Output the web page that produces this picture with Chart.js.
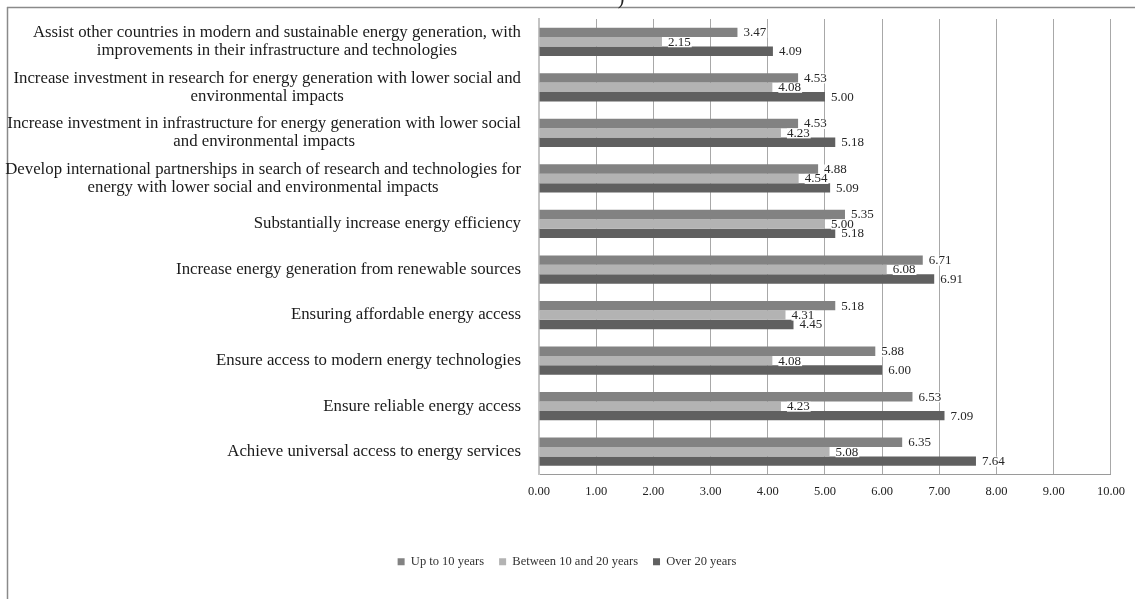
<!DOCTYPE html>
<html>
<head>
<meta charset="utf-8">
<script src="https://cdn.jsdelivr.net/npm/chart.js@4/dist/chart.umd.min.js"></script>
<style>
  html, body { margin: 0; padding: 0; background: #ffffff; }
  #wrap { width: 1135px; height: 599px; position: relative; }
</style>
</head>
<body>
<div id="wrap"><canvas id="c" width="1135" height="599"></canvas></div>
<script>
// Actions for the energy goal, listed top to bottom
const categories = [
  ["Assist other countries in modern and sustainable energy generation, with", "improvements in their infrastructure and technologies"],
  ["Increase investment in research for energy generation with lower social and", "environmental impacts"],
  ["Increase investment in infrastructure for energy generation with lower social", "and environmental impacts"],
  ["Develop international partnerships in search of research and technologies for", "energy with lower social and environmental impacts"],
  ["Substantially increase energy efficiency"],
  ["Increase energy generation from renewable sources"],
  ["Ensuring affordable energy access"],
  ["Ensure access to modern energy technologies"],
  ["Ensure reliable energy access"],
  ["Achieve universal access to energy services"]
];

const seriesNames = ["Up to 10 years", "Between 10 and 20 years", "Over 20 years"];

const upTo10 = [3.47, 4.53, 4.53, 4.88, 5.35, 6.71, 5.18, 5.88, 6.53, 6.35];
const between10and20 = [2.15, 4.08, 4.23, 4.54, 5.00, 6.08, 4.31, 4.08, 4.23, 5.08];
const over20 = [4.09, 5.00, 5.18, 5.09, 5.18, 6.91, 4.45, 6.00, 7.09, 7.64];

const xTicks = [0, 1, 2, 3, 4, 5, 6, 7, 8, 9, 10];

const SERIF = "'Liberation Serif', 'Times New Roman', serif";

// Frame lines and the clipped heading remnant
const framePlugin = {
  id: 'frame',
  beforeDraw(chart) {
    const ctx = chart.ctx;
    ctx.save();
    ctx.fillStyle = '#ffffff';
    ctx.fillRect(0, 0, chart.width, chart.height);
    ctx.strokeStyle = '#8a8a8a';
    ctx.lineWidth = 1.5;
    ctx.beginPath();
    ctx.moveTo(7, 7.5);
    ctx.lineTo(chart.width, 7.5);
    ctx.moveTo(7.5, 7);
    ctx.lineTo(7.5, chart.height);
    ctx.stroke();
    ctx.fillStyle = '#222';
    ctx.font = '20px ' + SERIF;
    ctx.textAlign = 'center';
    ctx.textBaseline = 'alphabetic';
    ctx.fillText(')', 621, 4);
    ctx.restore();
  }
};

// Centre the legend on the full canvas width rather than the padded box
const legendShiftPlugin = {
  id: 'legendShift',
  afterLayout(chart) {
    if (chart.legend) {
      chart.legend.left += 10;
      chart.legend.right += 10;
    }
  }
};

// Category labels: block right-aligned to the axis, lines centred within the block
const categoryLabelPlugin = {
  id: 'categoryLabels',
  afterDraw(chart) {
    const scale = chart.scales.y;
    const ctx = chart.ctx;
    ctx.save();
    ctx.font = '16.8px ' + SERIF;
    ctx.fillStyle = '#1a1a1a';
    ctx.textAlign = 'center';
    ctx.textBaseline = 'middle';
    const right = scale.right - 18;
    const lh = 18;
    categories.forEach((lines, i) => {
      const y = scale.getPixelForTick(i);
      const w = Math.max(...lines.map(l => ctx.measureText(l).width));
      const cx = right - w / 2;
      const y0 = y - (lines.length - 1) * lh / 2;
      lines.forEach((l, k) => ctx.fillText(l, cx, y0 + k * lh));
    });
    ctx.restore();
  }
};

// Value labels just past the end of each bar
const valueLabelPlugin = {
  id: 'valueLabels',
  afterDatasetsDraw(chart) {
    const ctx = chart.ctx;
    ctx.save();
    ctx.font = '13px ' + SERIF;
    ctx.textAlign = 'left';
    ctx.textBaseline = 'middle';
    chart.data.datasets.forEach((ds, di) => {
      const meta = chart.getDatasetMeta(di);
      meta.data.forEach((bar, i) => {
        const txt = ds.data[i].toFixed(2);
        const x = bar.x + 6;
        const y = bar.y + 0.5;
        const w = ctx.measureText(txt).width;
        ctx.fillStyle = '#ffffff';
        ctx.fillRect(x, y - 5, w + 1, 10);
        ctx.fillStyle = '#262626';
        ctx.fillText(txt, x, y);
      });
    });
    ctx.restore();
  }
};

new Chart(document.getElementById('c'), {
  type: 'bar',
  data: {
    labels: categories,
    datasets: [
      { label: seriesNames[0], data: upTo10, backgroundColor: '#828282' },
      { label: seriesNames[1], data: between10and20, backgroundColor: '#b3b3b3' },
      { label: seriesNames[2], data: over20, backgroundColor: '#606060' }
    ]
  },
  options: {
    indexAxis: 'y',
    responsive: false,
    animation: false,
    devicePixelRatio: 1,
    layout: { padding: { left: 0, right: 21, top: 19, bottom: 21 } },
    datasets: {
      bar: { categoryPercentage: 0.62, barPercentage: 1.0, borderWidth: 0 }
    },
    scales: {
      x: {
        min: 0,
        max: 10,
        afterBuildTicks(scale) { scale.ticks = xTicks.map(v => ({ value: v })); },
        afterFit(scale) { scale.height = 66; },
        ticks: {
          callback: v => Number(v).toFixed(2),
          font: { family: SERIF, size: 12.5 },
          color: '#222',
          padding: 10
        },
        grid: { color: '#a8a8a8', lineWidth: 1, drawTicks: false },
        border: { display: true, color: '#9a9a9a', width: 1 }
      },
      y: {
        afterFit(scale) { scale.width = 539; },
        ticks: { display: false },
        grid: { display: false, drawTicks: false },
        border: { display: true, color: '#c4c4c4', width: 2 }
      }
    },
    plugins: {
      legend: {
        position: 'bottom',
        labels: {
          boxWidth: 7,
          boxHeight: 7,
          padding: 15,
          font: { family: SERIF, size: 12.5 },
          color: '#333'
        }
      },
      tooltip: { enabled: false },
      title: { display: false }
    }
  },
  plugins: [framePlugin, legendShiftPlugin, categoryLabelPlugin, valueLabelPlugin]
});
</script>
</body>
</html>
